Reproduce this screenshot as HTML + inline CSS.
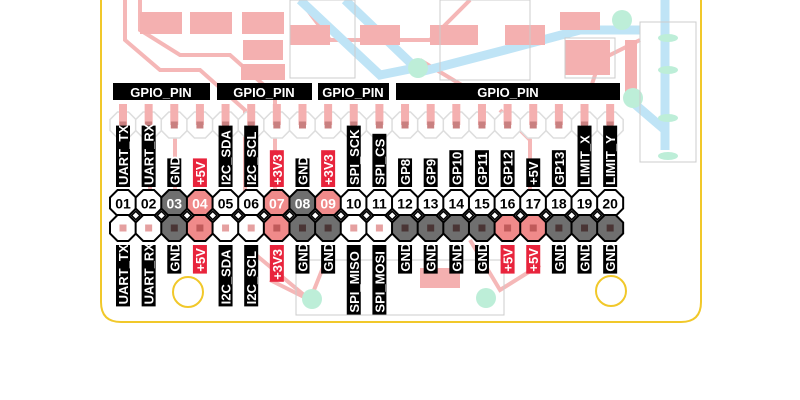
<!DOCTYPE html>
<html><head><meta charset="utf-8"><style>
html,body{margin:0;padding:0;background:#fff;width:800px;height:400px;overflow:hidden}
svg text{font-family:"Liberation Sans",sans-serif;font-weight:bold}
</style></head><body>
<svg width="800" height="400" viewBox="0 0 800 400" xmlns="http://www.w3.org/2000/svg">
<g stroke="#f4b0b0" stroke-width="4" fill="none" opacity="0.9">
<path d="M125 0 V40 L160 70 H200 L245 110 V200"/>
<path d="M140 0 L140 30 L180 55 H230 L275 95 V200"/>
<path d="M300 0 L330 40 L430 40 L470 0"/>
<path d="M150 110 V240"/><path d="M175 110 V240"/>
<path d="M500 110 L530 140 V240"/><path d="M250 250 L310 300"/>
<path d="M470 240 L500 290 L540 265"/><path d="M330 250 L310 300 L270 280"/>
<path d="M590 90 L600 60 L640 40"/>
<path d="M420 60 L470 90 L570 90"/>
</g>
<g stroke="#bfe4f6" stroke-width="9" fill="none">
<path d="M300 0 L380 75 L415 68"/><path d="M345 0 L420 72"/>
<path d="M420 72 L505 50 L580 30 H640"/><path d="M665 0 V150"/>
<path d="M630 100 L665 130"/>
</g>
<g fill="#f4b0b0">
<rect x="140" y="12" width="42" height="22"/><rect x="190" y="12" width="42" height="22"/>
<rect x="242" y="12" width="42" height="22"/><rect x="243" y="40" width="40" height="20"/>
<rect x="241" y="64" width="44" height="16"/>
<rect x="290" y="25" width="40" height="20"/><rect x="360" y="25" width="40" height="20"/>
<rect x="430" y="25" width="48" height="20"/><rect x="505" y="25" width="40" height="20"/>
<rect x="560" y="12" width="40" height="18"/><rect x="565" y="40" width="45" height="35"/>
<rect x="625" y="40" width="12" height="55"/>
<rect x="420" y="268" width="40" height="20"/>
</g>
<g fill="#bdeed8"><circle cx="418" cy="68" r="10"/><circle cx="622" cy="20" r="10"/><circle cx="633" cy="98" r="10"/><circle cx="312" cy="299" r="10"/><circle cx="486" cy="298" r="10"/>
<ellipse cx="668" cy="38" rx="10" ry="4"/><ellipse cx="668" cy="70" rx="10" ry="4"/><ellipse cx="668" cy="118" rx="10" ry="4"/><ellipse cx="668" cy="156" rx="10" ry="4"/></g>
<g fill="none" stroke="#ccc" stroke-width="1">
<rect x="290" y="0" width="65" height="78"/><rect x="440" y="0" width="90" height="80"/>
<rect x="640" y="22" width="56" height="140"/><rect x="296" y="260" width="208" height="55"/>
<rect x="565" y="38" width="50" height="40"/>
</g>
<path d="M101 0 V302 Q101 322 121 322 H681 Q701 322 701 302 V0" fill="none" stroke="#f1c82a" stroke-width="2"/>
<circle cx="188" cy="292" r="15" fill="none" stroke="#f1c82a" stroke-width="2"/>
<circle cx="611" cy="291" r="15" fill="none" stroke="#f1c82a" stroke-width="2"/>
<g fill="#000"><rect x="113" y="83" width="97" height="17"/><rect x="217" y="83" width="95" height="17"/><rect x="318" y="83" width="71" height="17"/><rect x="396" y="83" width="224" height="17"/></g>
<g fill="#fff" font-size="13" text-anchor="middle"><text x="161" y="97">GPIO_PIN</text><text x="264" y="97">GPIO_PIN</text><text x="353" y="97">GPIO_PIN</text><text x="508" y="97">GPIO_PIN</text></g>
<g id="pins"></g>
</svg>
<script>
(function(){
const g=document.getElementById('pins');const NS='http://www.w3.org/2000/svg';
function el(t,a,txt){const e=document.createElementNS(NS,t);for(const k in a)e.setAttribute(k,a[k]);if(txt)e.textContent=txt;g.appendChild(e);return e;}
function oct(cx,cy,s){const h=s/2,k=s*0.29;return [[cx-h+k,cy-h],[cx+h-k,cy-h],[cx+h,cy-h+k],[cx+h,cy+h-k],[cx+h-k,cy+h],[cx-h+k,cy+h],[cx-h,cy+h-k],[cx-h,cy-h+k]].map(p=>p.join(',')).join(' ');}
const xs=[];for(let i=0;i<20;i++)xs.push(123+i*25.64);
const topL=['UART_TX','UART_RX','GND','+5V','I2C_SDA','I2C_SCL','+3V3','GND','+3V3','SPI_SCK','SPI_CS','GP8','GP9','GP10','GP11','GP12','+5V','GP13','LIMIT_X','LIMIT_Y'];
const topRed=[3,6,8];
const bot=['UART_TX','UART_RX','GND','+5V','I2C_SDA','I2C_SCL','+3V3','GND','GND','SPI_MISO','SPI_MOSI','GND','GND','GND','GND','+5V','+5V','GND','GND','GND'];
xs.forEach(x=>{el('polygon',{points:oct(x,125,26),fill:'#fff',stroke:'#ddd','stroke-width':1.5});el('rect',{x:x-4,y:104,width:8,height:21,fill:'#f4b0b0'});el('rect',{x:x-3.5,y:121.5,width:7,height:7,fill:'#c98080'});});
xs.forEach((x,i)=>{
 const n=i+1;const f1=(n==3||n==8)?'#6f6f6f':(topRed.includes(i)?'#f08a8a':'#fff');
 el('polygon',{points:oct(x,203,26),fill:f1,stroke:'#000','stroke-width':2});
 el('text',{x:x,y:208.5,'text-anchor':'middle','font-size':14,fill:(f1=='#fff'?'#000':'#fff')},String(n).padStart(2,'0'));
 const b=bot[i];const f2=b=='GND'?'#6f6f6f':(b[0]=='+'?'#f08a8a':'#fff');
 el('polygon',{points:oct(x,228,26),fill:f2,stroke:'#000','stroke-width':2});
 el('rect',{x:x-3.5,y:224.5,width:7,height:7,fill:b=='GND'?'#4a3535':(f2=='#fff'?'#e5a0a0':'#c05a5a')});
});
xs.slice(0,19).forEach(x=>{el('rect',{x:x+12.8-3,y:215.5-3,width:6,height:6,transform:'rotate(45 '+(x+12.8)+' 215.5)',fill:'#fff',stroke:'#000','stroke-width':1.5});});
function lab(x,y,t,up,red){
 const len=t.length*8.2+4;const bg=red?'#e8243c':'#000';
 if(up){el('rect',{x:x-7,y:y-len,width:14,height:len,fill:bg});el('text',{transform:'translate('+(x+5)+','+(y-2)+') rotate(-90)','font-size':13,fill:'#fff'},t);}
 else{el('rect',{x:x-7,y:y,width:14,height:len,fill:bg});el('text',{transform:'translate('+(x+5)+','+(y+len-2)+') rotate(-90)','font-size':13,fill:'#fff'},t);}
}
topL.forEach((t,i)=>lab(xs[i],187,t,true,topRed.includes(i)));
bot.forEach((t,i)=>lab(xs[i],245,t,false,t[0]=='+'));
})();
</script>
</body></html>
